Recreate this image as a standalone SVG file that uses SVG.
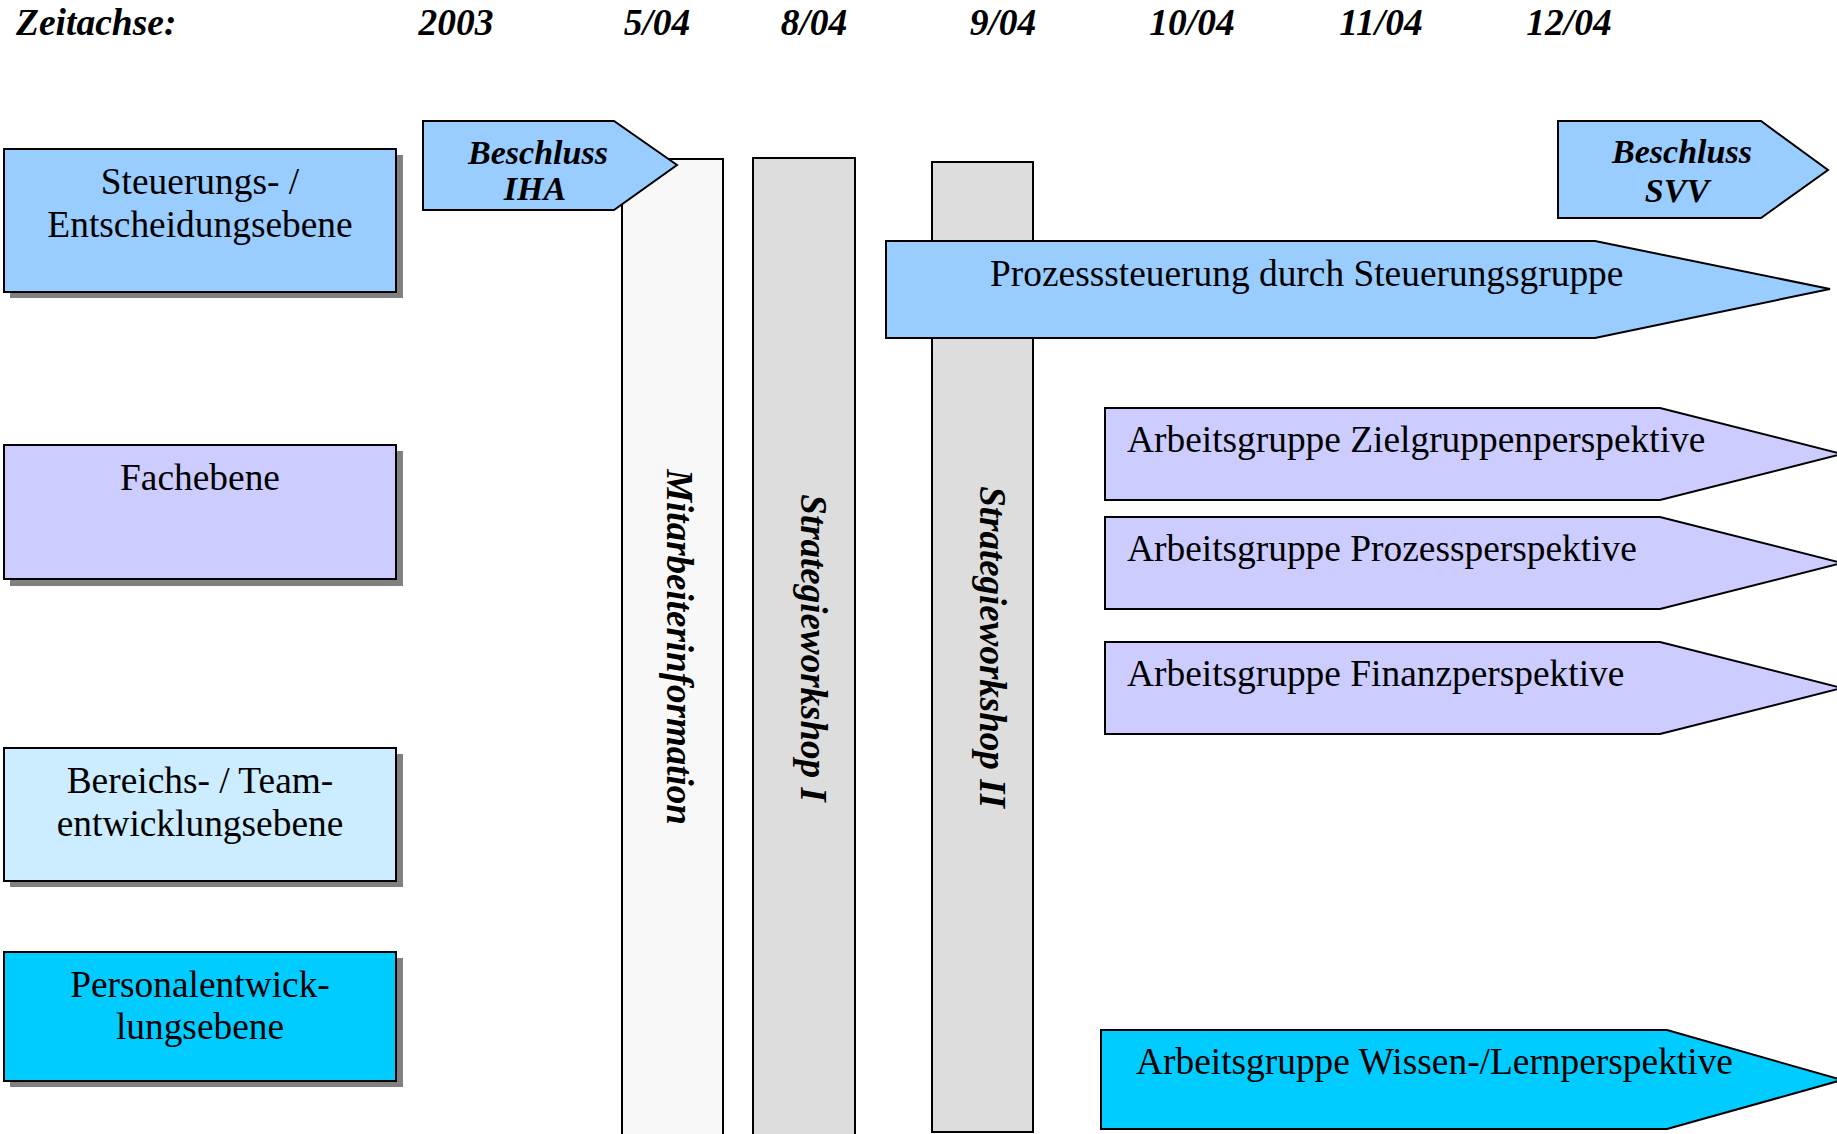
<svg xmlns="http://www.w3.org/2000/svg" width="1837" height="1134" viewBox="0 0 1837 1134">
<style>
  .hdr { font-family: "Liberation Serif", "Times New Roman", serif; font-size: 37.5px; font-weight: bold; font-style: italic; fill: #000; }
  .lbl { font-family: "Liberation Serif", "Times New Roman", serif; font-size: 37.4px; fill: #000; }
  .blbl { font-family: "Liberation Serif", "Times New Roman", serif; font-size: 34px; font-weight: bold; font-style: italic; fill: #000; }
  .vlbl { font-family: "Liberation Serif", "Times New Roman", serif; font-size: 37px; font-weight: bold; font-style: italic; fill: #000; }
  .ln { stroke: #000; stroke-width: 2; }
  .shadow { fill: #808080; }
</style>
<rect width="1837" height="1134" fill="#fff"/>

<g id="timeline">
  <text class="hdr" x="16" y="35">Zeitachse:</text>
  <text class="hdr" x="456" y="35" text-anchor="middle">2003</text>
  <text class="hdr" x="657" y="35" text-anchor="middle">5/04</text>
  <text class="hdr" x="814" y="35" text-anchor="middle">8/04</text>
  <text class="hdr" x="1003" y="35" text-anchor="middle">9/04</text>
  <text class="hdr" x="1192" y="35" text-anchor="middle">10/04</text>
  <text class="hdr" x="1381" y="35" text-anchor="middle">11/04</text>
  <text class="hdr" x="1569" y="35" text-anchor="middle">12/04</text>
</g>

<g id="level-steuerung">
  <rect class="shadow" x="10" y="155" width="393" height="143"/>
  <rect class="ln" x="4" y="149" width="392" height="143" fill="#99CCFF"/>
  <text class="lbl" x="200" y="194" text-anchor="middle">Steuerungs- /</text>
  <text class="lbl" x="200" y="237" text-anchor="middle">Entscheidungsebene</text>
</g>
<g id="level-fach">
  <rect class="shadow" x="10" y="451" width="393" height="135"/>
  <rect class="ln" x="4" y="445" width="392" height="134" fill="#CCCCFF"/>
  <text class="lbl" x="200" y="490" text-anchor="middle">Fachebene</text>
</g>
<g id="level-bereich">
  <rect class="shadow" x="10" y="754" width="393" height="133"/>
  <rect class="ln" x="4" y="748" width="392" height="133" fill="#CCECFF"/>
  <text class="lbl" x="200" y="793" text-anchor="middle">Bereichs- / Team-</text>
  <text class="lbl" x="200" y="836" text-anchor="middle">entwicklungsebene</text>
</g>
<g id="level-personal">
  <rect class="shadow" x="10" y="958" width="393" height="129"/>
  <rect class="ln" x="4" y="952" width="392" height="129" fill="#00CCFF"/>
  <text class="lbl" x="200" y="997" text-anchor="middle">Personalentwick-</text>
  <text class="lbl" x="200" y="1039" text-anchor="middle">lungsebene</text>
</g>

<g id="bar-mitarbeiterinformation">
  <rect class="ln" x="622" y="159" width="101" height="990" fill="#F8F8F8"/>
  <text class="vlbl" transform="translate(667,647) rotate(90)" text-anchor="middle">Mitarbeiterinformation</text>
</g>
<g id="bar-strategieworkshop-1">
  <rect class="ln" x="753" y="158" width="102" height="990" fill="#DDDDDD"/>
  <text class="vlbl" transform="translate(801,648) rotate(90)" text-anchor="middle">Strategieworkshop I</text>
</g>
<g id="bar-strategieworkshop-2">
  <rect class="ln" x="932" y="162" width="101" height="970" fill="#DDDDDD"/>
  <text class="vlbl" transform="translate(980,647) rotate(90)" text-anchor="middle">Strategieworkshop II</text>
</g>

<g id="beschluss-iha">
  <polygon class="ln" points="423,121 614,121 677,165 614,210 423,210" fill="#99CCFF"/>
  <text class="blbl" x="538" y="164" text-anchor="middle">Beschluss</text>
  <text class="blbl" x="535" y="200" text-anchor="middle">IHA</text>
</g>
<g id="beschluss-svv">
  <polygon class="ln" points="1558,121 1761,121 1828,170 1761,218 1558,218" fill="#99CCFF"/>
  <text class="blbl" x="1682" y="163" text-anchor="middle">Beschluss</text>
  <text class="blbl" x="1677" y="202" text-anchor="middle">SVV</text>
</g>

<g id="prozesssteuerung">
  <polygon class="ln" points="886,241 1595,241 1830,289 1595,338 886,338" fill="#99CCFF"/>
  <text class="lbl" x="990" y="286">Prozesssteuerung durch Steuerungsgruppe</text>
</g>
<g id="ag-zielgruppen">
  <polygon class="ln" points="1105,408 1660,408 1842,454 1660,500 1105,500" fill="#CCCCFF"/>
  <text class="lbl" x="1127" y="452">Arbeitsgruppe Zielgruppenperspektive</text>
</g>
<g id="ag-prozess">
  <polygon class="ln" points="1105,517 1660,517 1842,563 1660,609 1105,609" fill="#CCCCFF"/>
  <text class="lbl" x="1127" y="561">Arbeitsgruppe Prozessperspektive</text>
</g>
<g id="ag-finanz">
  <polygon class="ln" points="1105,642 1660,642 1842,688 1660,734 1105,734" fill="#CCCCFF"/>
  <text class="lbl" x="1127" y="686">Arbeitsgruppe Finanzperspektive</text>
</g>
<g id="ag-wissen">
  <polygon class="ln" points="1101,1030 1667,1030 1842,1080 1667,1129 1101,1129" fill="#00CCFF"/>
  <text class="lbl" x="1136" y="1074">Arbeitsgruppe Wissen-/Lernperspektive</text>
</g>

<g id="connectors"/>
</svg>
